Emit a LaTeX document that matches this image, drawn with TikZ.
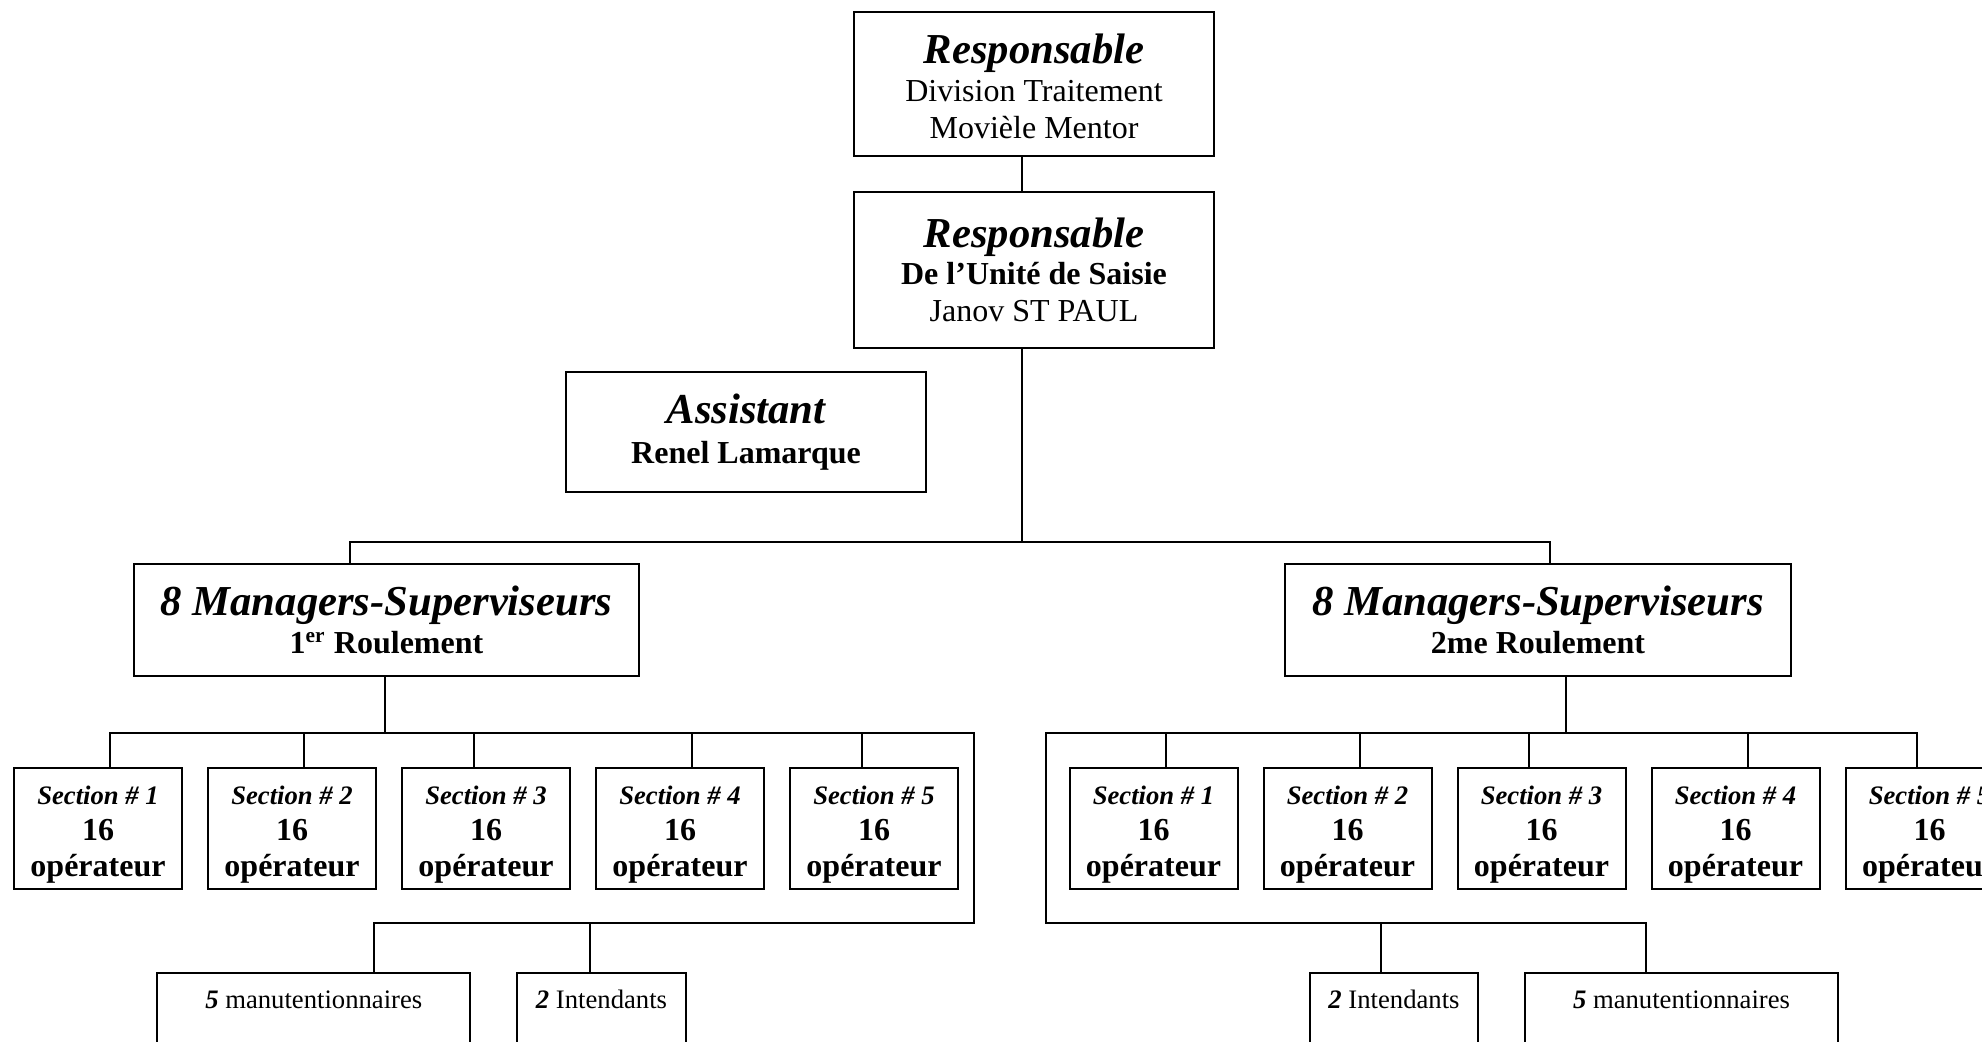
\documentclass[tikz,border=0pt]{standalone}
\usepackage{fontspec}
\setmainfont{Liberation Serif}
\usetikzlibrary{calc, positioning}
\newcommand\hdfont{\fontsize{16}{18}\selectfont\bfseries\itshape}
\newcommand\txfont{\fontsize{12}{13.8}\selectfont}
\newcommand\smfont{\fontsize{10}{11.5}\selectfont}
\newcommand\sectext[1]{\smfont\bfseries\itshape\rule{0pt}{11.7pt}Section \# #1\\[1.4pt] \txfont\bfseries 16\\[1.4pt] \txfont\bfseries opérateur}
\tikzset{
  orgbox/.style={draw, rectangle, line width=.75pt, inner sep=0pt, align=center},
  chefbox/.style={orgbox, minimum width=135pt},
  mgrbox/.style={orgbox, minimum width=189.4pt, minimum height=42pt},
  secbox/.style={orgbox, minimum width=63pt, minimum height=45.4pt},
  staffbox/.style={orgbox, anchor=north, inner ysep=6.25pt, text height=7pt, text depth=55.5pt},
  link/.style={line width=.75pt}
}

\begin{document}
\begin{tikzpicture}[x=0.375pt, y=-0.375pt]
			\useasboundingbox (0,0) rectangle (1982,1041);
			\clip (0,0) rectangle (1982,1041);
			% nodes %
			\node[chefbox, minimum height=54pt] (resp1) at (1034,84) {\hdfont\rule{0pt}{13pt}Responsable\\[2pt] \txfont Division Traitement\\[2pt] \txfont Movièle Mentor};
			\node[chefbox, minimum height=58.5pt] (resp2) at (1034,270) {\hdfont Responsable\\[2pt] \txfont\bfseries De l’Unité de Saisie\\[2pt] \txfont Janov ST PAUL};
			\node[chefbox, minimum height=45pt] (assist) at (746,432) {\hdfont Assistant\\[3pt] \txfont\bfseries Renel Lamarque};
			\node[mgrbox] (mgrA) at (386.5,620) {\hdfont 8 Managers-Superviseurs\\[2.4pt] \txfont\bfseries 1\textsuperscript{er} Roulement};
			\node[mgrbox] (mgrB) at (1538,620) {\hdfont 8 Managers-Superviseurs\\[2.4pt] \txfont\bfseries 2me Roulement};

			% sections %
			\node[secbox] (secA1) at (98,828.5) {\sectext{1}};
			\node[secbox] (secB1) at (1153.5,828.5) {\sectext{1}};
			\foreach \i [count=\j from 2] in {1,...,4} {
				\node[secbox, right=9pt of secA\i] (secA\j) {\sectext{\j}};
				\node[secbox, right=9pt of secB\i] (secB\j) {\sectext{\j}};
			}

			% staff %
			\node[staffbox, minimum width=117.2pt] (manA) at (313.75,972) {\smfont\textbf{\textit{5}} manutentionnaires};
			\node[staffbox, minimum width=63.4pt] (intA) at (601.5,972) {\smfont\textbf{\textit{2}} Intendants};
			\node[staffbox, minimum width=63pt] (intB) at (1394,972) {\smfont\textbf{\textit{2}} Intendants};
			\node[staffbox, minimum width=117.4pt] (manB) at (1681.5,972) {\smfont\textbf{\textit{5}} manutentionnaires};

			% edges %
			\coordinate (hub) at ($(resp2.south)+(-12,193)$);
			\coordinate (jA) at ($(mgrA.south)+(-1.5,56)$);
			\coordinate (jB) at ($(mgrB.south)+(28,56)$);
			\coordinate (loopA) at (974,923);
			\coordinate (loopB) at (1046,923);
			\draw[link] ($(resp1.south)+(-12,0)$) -- ($(resp2.north)+(-12,0)$);
			\draw[link] ($(resp2.south)+(-12,0)$) -- (hub);
			\draw[link] ($(assist.east)+(0,12)$) -- ($(assist.east)+(0,12)$ -| hub);
			\draw[link] ($(mgrA.north)+(-36.5,0)$) |- (hub) -| ($(mgrB.north)+(12,0)$);
			\draw[link] ($(mgrA.south)+(-1.5,0)$) -- (jA);
			\draw[link] ($(mgrB.south)+(28,0)$) -- (jB);
			\foreach \i/\dx in {1/12, 2/12, 3/-12.5, 4/12, 5/-12.5} {
				\draw[link] ($(secA\i.north)+(\dx,0)$) |- (jA);
				\draw[link] ($(secB\i.north)+(\dx,0)$) |- (jB);
			}
			\draw[link] ($(manA.north)+(60,0)$) |- (loopA) |- (jA);
			\draw[link] ($(intA.north)+(-11.5,0)$) |- (loopA);
			\draw[link] ($(manB.north)+(-35.5,0)$) |- (loopB) |- (jB);
			\draw[link] ($(intB.north)+(-13,0)$) |- (loopB);
\end{tikzpicture}
\end{document}
